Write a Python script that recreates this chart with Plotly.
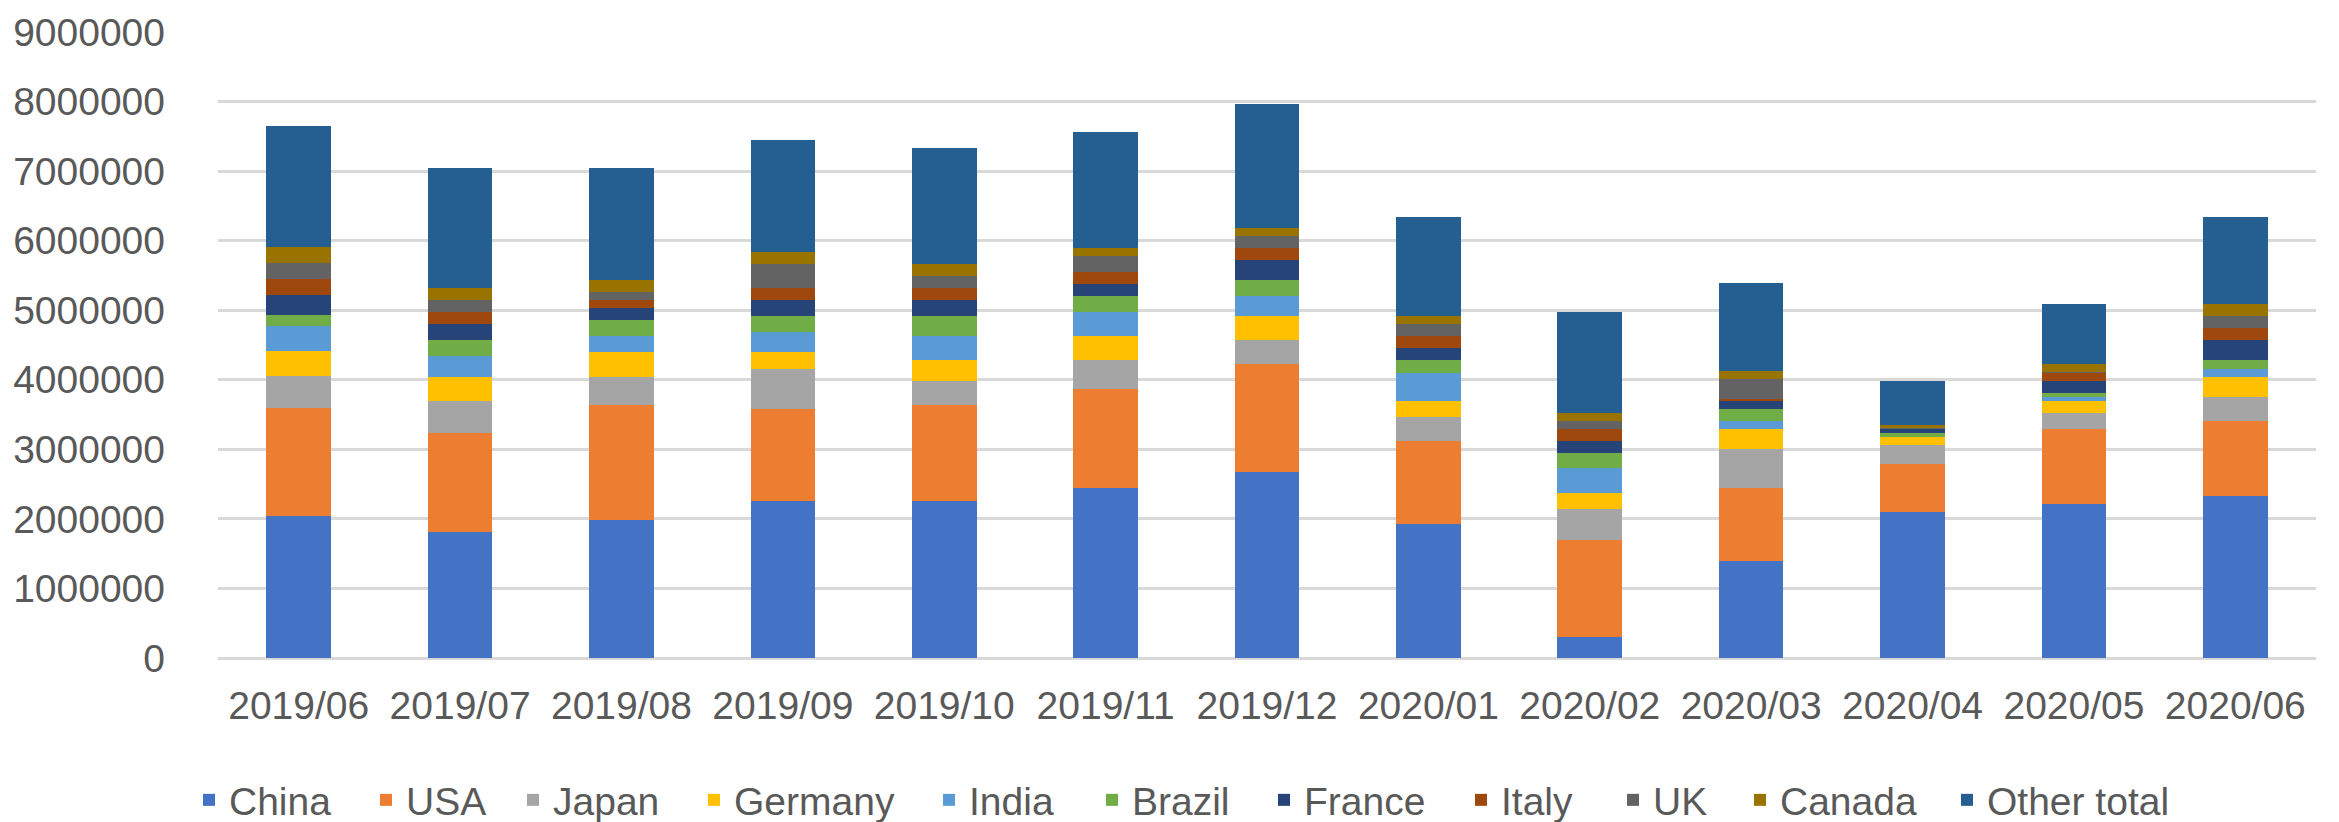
import plotly.graph_objects as go

months = ["2019/06", "2019/07", "2019/08", "2019/09", "2019/10", "2019/11", "2019/12",
          "2020/01", "2020/02", "2020/03", "2020/04", "2020/05", "2020/06"]

china   = [2045000, 1808000, 1978000, 2263000, 2263000, 2438000, 2668000, 1923000, 307000, 1392000, 2093000, 2208000, 2323000]
usa     = [1551000, 1430000, 1660000, 1321000, 1375000, 1430000, 1557000, 1200000, 1392000, 1046000, 691000, 1091000, 1085000]
japan   = [462000, 461000, 400000, 569000, 346000, 417000, 345000, 345000, 449000, 570000, 284000, 224000, 345000]
germany = [359000, 339000, 362000, 247000, 301000, 345000, 345000, 231000, 230000, 291000, 116000, 176000, 285000]
india   = [353000, 302000, 230000, 290000, 345000, 340000, 285000, 394000, 351000, 109000, 0, 54000, 115000]
brazil  = [160000, 230000, 225000, 225000, 285000, 230000, 230000, 192000, 224000, 176000, 54000, 61000, 132000]
france  = [288000, 230000, 175000, 230000, 230000, 170000, 285000, 170000, 170000, 115000, 61000, 170000, 285000]
italy   = [231000, 170000, 115000, 170000, 170000, 175000, 175000, 175000, 176000, 28000, 4000, 115000, 175000]
uk      = [231000, 175000, 115000, 345000, 170000, 230000, 170000, 170000, 109000, 285000, 4000, 20000, 170000]
canada  = [231000, 170000, 170000, 170000, 175000, 115000, 115000, 115000, 115000, 115000, 46000, 106000, 170000]
other   = [1738000, 1732000, 1617000, 1617000, 1677000, 1670000, 1792000, 1430000, 1447000, 1271000, 631000, 860000, 1260000]

series = [
    ("China", china, "#4472C4"),
    ("USA", usa, "#ED7D31"),
    ("Japan", japan, "#A5A5A5"),
    ("Germany", germany, "#FFC000"),
    ("India", india, "#5B9BD5"),
    ("Brazil", brazil, "#70AD47"),
    ("France", france, "#264478"),
    ("Italy", italy, "#9E480E"),
    ("UK", uk, "#636363"),
    ("Canada", canada, "#997300"),
    ("Other total", other, "#255E91"),
]

y_ticks = [0, 1000000, 2000000, 3000000, 4000000, 5000000, 6000000, 7000000, 8000000, 9000000]

# layout: page has an 8px body margin, so figure coords = screen coords - 8
OFF = 8
legend_marker_px = [206, 383, 530, 711, 946, 1109, 1281, 1478, 1630, 1757, 1964]

W, H = 2339, 822
L = 218 - OFF
T = 32 - OFF
R = W - (2316 - OFF)
B = H - (658 - OFF)
plot_w = W - L - R
plot_h = H - T - B
legend_center_fig = 800 - OFF

fig = go.Figure()
layout_legends = {}
for i, (name, vals, color) in enumerate(series):
    key = "legend" if i == 0 else f"legend{i + 1}"
    fig.add_trace(go.Bar(x=months, y=vals, name=name, legend=key, showlegend=True,
                         marker=dict(color=color, line=dict(width=0))))
    box_left_fig = legend_marker_px[i] + 3 - OFF - 20
    layout_legends[key] = dict(
        orientation="h",
        x=(box_left_fig - L) / plot_w, xanchor="left",
        y=((T + plot_h) - legend_center_fig) / plot_h, yanchor="middle",
        font=dict(family="Liberation Sans", size=39, color="#595959"),
        bgcolor="rgba(0,0,0,0)",
        borderwidth=0,
    )

fig.update_layout(
    width=W, height=H,
    showlegend=True,
    barmode="stack",
    bargap=0.6,
    paper_bgcolor="white",
    plot_bgcolor="white",
    margin=dict(l=L, r=R, t=T, b=B, pad=0, autoexpand=False),
    font=dict(family="Liberation Sans", size=39, color="#595959"),
    xaxis=dict(
        type="category",
        showgrid=False,
        showline=False,
        ticks="",
        ticklabelstandoff=21,
        tickfont=dict(size=39, color="#595959"),
    ),
    yaxis=dict(
        range=[0, 9000000],
        tickvals=y_ticks,
        ticktext=[str(v) for v in y_ticks],
        showgrid=True,
        gridcolor="#D9D9D9",
        gridwidth=3,
        zeroline=True,
        zerolinecolor="#D9D9D9",
        zerolinewidth=3,
        showline=False,
        ticks="",
        ticklabelstandoff=52,
        tickfont=dict(size=39, color="#595959"),
    ),
    **layout_legends,
)

fig.write_html("out.html")
